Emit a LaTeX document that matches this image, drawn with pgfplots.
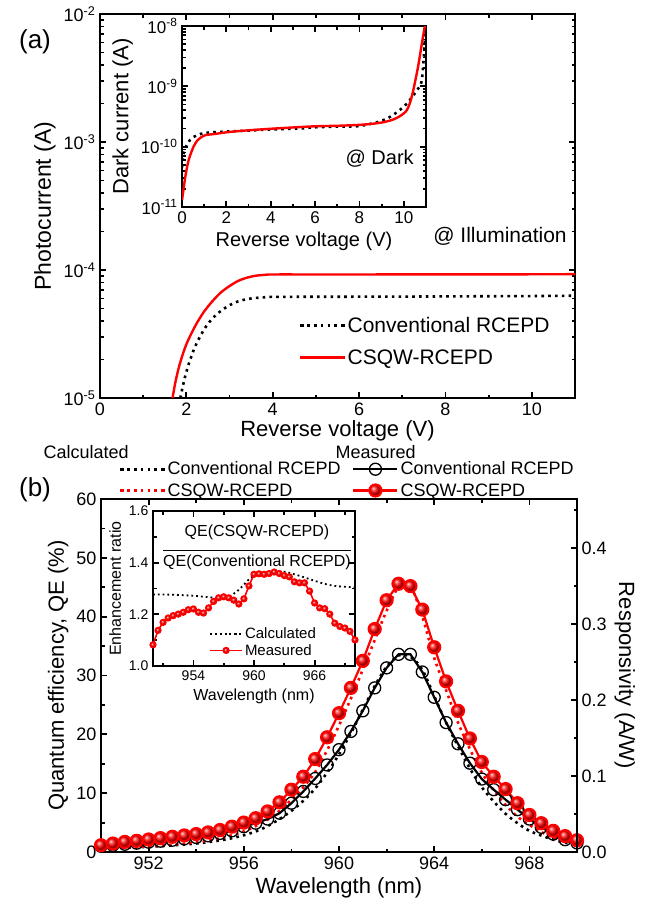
\documentclass[border=0pt]{standalone}
\usepackage{fontspec}
\setmainfont{Liberation Sans}
\usepackage{pgfplots}
\usepackage{pgfplotstable}
\pgfplotsset{compat=1.18}
\newcommand{\fs}[1]{\fontsize{#1bp}{#1bp}\selectfont}
\newcommand{\tp}[1]{10\textsuperscript{-#1}}
\pgfplotsset{
  base/.style={
    scale only axis,
    line width=2.6bp,
    axis line style={line width=2.6bp},
    every outer x axis line/.append style={line width=2.6bp},
    every outer y axis line/.append style={line width=2.6bp},
    tick align=inside,
    every tick/.style={black, line width=1.8bp},
    major tick length=6bp, minor tick length=3.5bp,
    /pgf/number format/assume math mode=true,
    tick label style={font=\fs{18}},
    label style={font=\fs{22}},
    legend cell align=left,
    legend image code/.code={\draw[mark repeat=2,mark phase=2,##1] plot coordinates {(0bp,0bp) (22bp,0bp) (44bp,0bp)};},
  },
  calc/.style={line width=2.6bp, dash pattern=on 2.6bp off 4.2bp},
}
\pgfplotstableread{
wl redM blkM redC blkC ratioM
950 1.15 0.98 0.60 0.60 1.082
950.5 1.44 1.15 0.68 0.65 1.138
951 1.72 1.32 0.76 0.72 1.169
951.5 1.90 1.50 0.85 0.80 1.186
952 2.13 1.67 0.95 0.90 1.195
952.5 2.36 1.84 1.08 1.00 1.201
953 2.59 2.00 1.23 1.12 1.208
953.5 2.82 2.24 1.42 1.27 1.218
954 3.05 2.47 1.65 1.45 1.221
954.5 3.33 2.76 1.95 1.68 1.208
955 3.74 3.16 2.35 1.97 1.205
955.5 4.31 3.60 2.85 2.35 1.225
956 5.00 4.30 3.50 2.85 1.250
956.5 5.75 4.90 4.40 3.50 1.264
957 6.90 5.60 5.50 4.40 1.268
957.5 8.45 6.60 7.00 5.60 1.264
958 10.6 8.30 8.90 7.00 1.255
958.5 12.8 10.3 11.0 8.70 1.240
959 15.8 12.5 13.6 10.8 1.260
959.5 19.5 14.8 17.3 13.5 1.310
960 23.6 17.4 21.5 16.6 1.355
960.5 27.9 20.5 26.1 20.2 1.357
961 32.5 24.0 31.0 24.2 1.355
961.5 37.9 27.9 36.0 28.2 1.358
962 42.8 31.3 41.0 31.5 1.364
962.5 45.6 33.6 45.0 33.4 1.358
963 45.2 33.6 45.2 33.2 1.350
963.5 41.2 30.6 40.0 31.0 1.345
964 34.8 26.3 33.0 26.5 1.326
964.5 29.0 22.0 27.5 22.0 1.322
965 24.0 18.4 22.0 18.0 1.322
965.5 19.3 15.1 17.5 14.2 1.290
966 15.3 12.4 13.5 11.0 1.244
966.5 12.8 10.6 10.5 8.60 1.225
967 10.7 8.90 8.00 6.50 1.222
967.5 8.30 7.20 6.00 4.90 1.201
968 6.30 5.60 4.60 3.60 1.166
968.5 4.90 4.20 3.40 2.80 1.153
969 3.60 3.05 2.50 2.10 1.147
969.5 2.70 2.10 1.90 1.60 1.134
970 2.00 1.55 1.40 1.20 1.101
}\qe
\pgfplotstableread{
wl ratioC
950 1.277
952 1.276
954 1.272
955 1.268
956 1.265
957 1.264
957.5 1.268
958 1.280
958.5 1.295
959 1.315
959.5 1.335
960 1.350
961 1.360
962 1.365
963 1.365
964 1.355
965 1.343
966 1.330
967 1.318
968 1.310
969 1.307
970 1.305
}\ratioc
\begin{document}
\begin{tikzpicture}[x=1bp,y=1bp]
\useasboundingbox (0,0) rectangle (652,-910);
% ---------------- (a) main
\begin{axis}[base, at={(100bp,-398bp)}, anchor=south west, width=475bp, height=384bp,
  xmin=0, xmax=11, ymode=log, ymin=1e-5, ymax=1e-2,
  xtick={0,2,4,6,8,10}, minor xtick={1,3,5,7,9,11},
  ytick={1e-5,1e-4,1e-3,1e-2},
  yticklabels={\tp{5},\tp{4},\tp{3},\tp{2}},
  minor ytick={2e-5,3e-5,4e-5,5e-5,6e-5,7e-5,8e-5,9e-5,2e-4,3e-4,4e-4,5e-4,6e-4,7e-4,8e-4,9e-4,2e-3,3e-3,4e-3,5e-3,6e-3,7e-3,8e-3,9e-3},
  xlabel={Reverse voltage (V)}, ylabel={Photocurrent (A)},
  xlabel style={yshift=3bp},
  ylabel style={font=\fs{23}},
  legend style={at={(0.41,0.225)}, anchor=north west, draw=none, fill=none, font=\fs{21}, row sep=12bp},
]
\addplot[calc, black, smooth] coordinates {(1.86,1e-5) (1.95,1.38e-5) (2.05,1.82e-5) (2.2,2.51e-5) (2.4,3.39e-5) (2.6,4.17e-5) (2.8,4.79e-5) (3.0,5.31e-5) (3.2,5.69e-5) (3.4,5.92e-5) (3.6,6.05e-5) (3.8,6.12e-5) (4.0,6.17e-5) (5,6.18e-5) (6,6.19e-5) (7,6.2e-5) (8,6.22e-5) (9,6.24e-5) (10,6.26e-5) (11,6.3e-5)};
\addlegendentry{Conventional RCEPD}
\addplot[red, line width=2.4bp, smooth] coordinates {(1.68,1e-5) (1.75,1.35e-5) (1.85,1.86e-5) (2.0,2.63e-5) (2.2,3.63e-5) (2.4,4.68e-5) (2.6,5.69e-5) (2.8,6.68e-5) (3.0,7.5e-5) (3.2,8.22e-5) (3.4,8.71e-5) (3.6,9.02e-5) (3.8,9.16e-5) (4.0,9.23e-5) (5,9.23e-5) (6,9.23e-5) (7,9.24e-5) (8,9.24e-5) (9,9.25e-5) (10,9.26e-5) (11,9.28e-5)};
\addlegendentry{CSQW-RCEPD}
\end{axis}
% ---------------- (a) inset
\begin{axis}[base, at={(182bp,-207bp)}, anchor=south west, width=244bp, height=181bp,
  axis background/.style={fill=white},
  xmin=0, xmax=11, ymode=log, ymin=1e-11, ymax=1e-8,
  xtick={0,2,4,6,8,10}, minor xtick={1,3,5,7,9,11},
  ytick={1e-11,1e-10,1e-9,1e-8},
  yticklabels={\tp{11},\tp{10},\tp{9},\tp{8}},
  minor ytick={2e-11,3e-11,4e-11,5e-11,6e-11,7e-11,8e-11,9e-11,2e-10,3e-10,4e-10,5e-10,6e-10,7e-10,8e-10,9e-10,2e-9,3e-9,4e-9,5e-9,6e-9,7e-9,8e-9,9e-9},
  tick label style={font=\fs{17}},
  label style={font=\fs{20}},
  ylabel style={font=\fs{22}},
  xlabel={Reverse voltage (V)}, ylabel={Dark current (A)},
]
\addplot[calc, black, smooth] coordinates {(0,4.5e-11) (0.05,7e-11) (0.15,9.5e-11) (0.37,1.3e-10) (0.67,1.55e-10) (1.1,1.7e-10) (2,1.78e-10) (3,1.85e-10) (4,1.93e-10) (5.3,2.0e-10) (6,2.1e-10) (7,2.15e-10) (8.0,2.2e-10) (8.8,2.55e-10) (9.3,3.0e-10) (9.8,4.0e-10) (10.2,5.5e-10) (10.6,8.7e-10) (10.8,1.2e-9) (10.9,3e-9) (10.97,7.6e-9) (11,1e-8)};
\addplot[red, line width=2.4bp, smooth] coordinates {(0,1.3e-11) (0.08,2.1e-11) (0.15,3.2e-11) (0.3,6e-11) (0.52,1e-10) (0.7,1.28e-10) (0.85,1.42e-10) (1.05,1.55e-10) (1.5,1.63e-10) (2.3,1.78e-10) (3.8,1.96e-10) (5.9,2.17e-10) (7,2.22e-10) (8.0,2.3e-10) (8.6,2.4e-10) (9.07,2.54e-10) (9.5,2.8e-10) (9.82,3.2e-10) (10.1,3.86e-10) (10.25,5e-10) (10.4,7.8e-10) (10.64,2.1e-9) (10.84,5.9e-9) (10.95,1e-8)};
\node[font=\fs{20}] at (axis description cs:0.81,0.27) {@ Dark};
\end{axis}
\node[font=\fs{21}] at (500bp,-236bp) {@ Illumination};
\node[font=\fs{26}] at (35bp,-42bp) {(a)};
% ---------------- (b) main
\begin{axis}[base, at={(101bp,-852bp)}, anchor=south west, width=476bp, height=353bp,
  xmin=950, xmax=970, ymin=0, ymax=60,
  xtick={952,956,960,964,968}, minor xtick={950,954,958,962,966,970},
  ytick={0,10,20,30,40,50,60}, minor ytick={5,15,25,35,45,55}, ytick pos=left,
  xlabel={Wavelength (nm)}, ylabel={Quantum efficiency, QE (\%)},
  legend style={at={(0.029,1.12)}, anchor=north west, draw=none, fill=none, font=\fs{18}, row sep=3bp},
]
\addplot[calc, black, smooth] table[x=wl, y=blkC] {\qe};
\addlegendentry{Conventional RCEPD}
\addplot[calc, red, smooth] table[x=wl, y=redC] {\qe};
\addlegendentry{CSQW-RCEPD}
\addplot[black, line width=2.2bp, mark=o, mark size=6bp, mark options={fill=white, line width=1.3bp}, forget plot] table[x=wl, y=blkM] {\qe};
\addplot[red, line width=2.2bp, mark=ball, mark size=6bp, mark options={ball color=red}, forget plot] table[x=wl, y=redM] {\qe};
\end{axis}
\begin{axis}[base, at={(101bp,-852bp)}, anchor=south west, width=476bp, height=353bp,
  xmin=950, xmax=970, ymin=0, ymax=0.4646,
  hide x axis, axis y line*=right,
  ytick={0,0.1,0.2,0.3,0.4}, minor ytick={0.05,0.15,0.25,0.35,0.45},
  yticklabel style={/pgf/number format/.cd, fixed, fixed zerofill, precision=1},
  ylabel={Responsivity (A/W)}, ylabel style={rotate=180},
  legend style={at={(0.519,1.12)}, anchor=north west, draw=none, fill=none, font=\fs{18}, row sep=3bp},
]
\addlegendimage{black, line width=2.2bp, mark=o, mark size=6bp, mark options={fill=white, line width=1.3bp}}
\addlegendentry{Conventional RCEPD}
\addlegendimage{red, line width=2.2bp, mark=ball, mark size=6bp, mark options={ball color=red}}
\addlegendentry{CSQW-RCEPD}
\end{axis}
% ---------------- (b) inset
\begin{axis}[base, at={(153bp,-666bp)}, anchor=south west, width=202bp, height=155bp,
  axis background/.style={fill=white},
  xmin=950, xmax=970, ymin=1.0, ymax=1.6,
  xtick={954,960,966}, minor xtick={951,957,963,969},
  ytick={1.0,1.2,1.4,1.6}, minor ytick={1.1,1.3,1.5},
  yticklabel style={/pgf/number format/.cd, fixed, fixed zerofill, precision=1},
  tick label style={font=\fs{14}},
  label style={font=\fs{16}},
  xlabel={Wavelength (nm)}, ylabel={Enhancement ratio},
  legend style={at={(0.257,0.28)}, anchor=north west, draw=none, fill=none, font=\fs{15}},
  legend image code/.code={\draw[mark repeat=2,mark phase=2,#1] plot coordinates {(0bp,0bp) (16bp,0bp) (32bp,0bp)};},
]
\addplot[line width=1.8bp, dash pattern=on 1.8bp off 3bp, black, smooth] table[x=wl, y=ratioC] {\ratioc};
\addlegendentry{Calculated}
\addplot[red, line width=1.6bp, mark=ball, mark size=2.8bp, mark options={ball color=red}] table[x=wl, y=ratioM] {\qe};
\addlegendentry{Measured}
\end{axis}
\node[font=\fs{16}, align=center, inner sep=0pt] at (257bp,-547bp) {QE(CSQW-RCEPD)\\[-1bp]\rule{188bp}{1.2bp}\\[-1bp]QE(Conventional RCEPD)};
\node[font=\fs{26}] at (35bp,-490bp) {(b)};
\node[font=\fs{18}, anchor=west] at (40bp,-452bp) {Calculated};
\node[font=\fs{18}, anchor=west] at (332bp,-452bp) {Measured};
\end{tikzpicture}
\end{document}
